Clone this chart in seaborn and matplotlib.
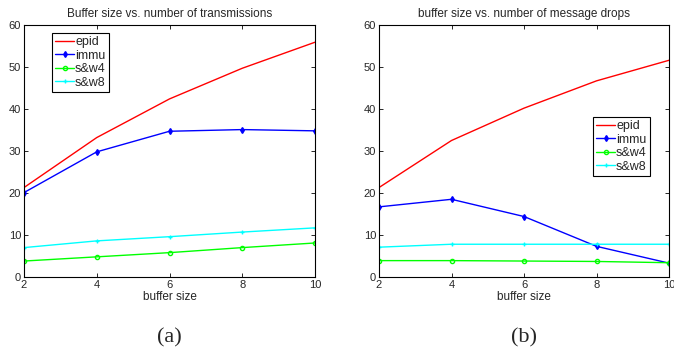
import matplotlib
matplotlib.use("Agg")
import matplotlib.pyplot as plt
import seaborn as sns
import pandas as pd

buffer_size = [2, 4, 6, 8, 10]
series_names = ["epid", "immu", "s&w4", "s&w8"]

# (a) number of transmissions
trans_epid = [21.3, 33.2, 42.4, 49.7, 55.9]
trans_immu = [20.1, 29.8, 34.7, 35.1, 34.8]
trans_sw4 = [3.8, 4.8, 5.8, 7.0, 8.1]
trans_sw8 = [7.0, 8.6, 9.6, 10.7, 11.7]

# (b) number of message drops
drops_epid = [21.3, 32.5, 40.2, 46.7, 51.6]
drops_immu = [16.7, 18.5, 14.4, 7.3, 3.3]
drops_sw4 = [3.9, 3.9, 3.8, 3.7, 3.4]
drops_sw8 = [7.1, 7.8, 7.8, 7.8, 7.8]

titles = ["Buffer size vs. number of transmissions", "buffer size vs. number of message drops"]
captions = ["(a)", "(b)"]
xlabel = "buffer size"
yticks = [0, 10, 20, 30, 40, 50, 60]

sns.set_style("white")
plt.rcParams["font.family"] = ["Liberation Sans", "DejaVu Sans"]

colors = {"epid": "#ff0000", "immu": "#0000ff", "s&w4": "#00ff00", "s&w8": "#00ffff"}
markers = {"epid": "", "immu": "d", "s&w4": "o", "s&w8": "+"}

def make_df(vals):
    rows = []
    for name, v in zip(series_names, vals):
        for x, y in zip(buffer_size, v):
            rows.append({"buffer": x, "value": y, "series": name})
    return pd.DataFrame(rows)

fig = plt.figure(figsize=(6.74, 3.52), dpi=100)
W, H = 674, 352
axes_px = [(24, 25, 315, 277), (379, 25, 669, 277)]
data = [[trans_epid, trans_immu, trans_sw4, trans_sw8],
        [drops_epid, drops_immu, drops_sw4, drops_sw8]]
legend_pos = [(52, 33), (593, 117)]

for i in range(2):
    l, t, r, b = axes_px[i]
    ax = fig.add_axes([l / W, 1 - b / H, (r - l) / W, (b - t) / H])
    df = make_df(data[i])
    for name in series_names:
        sub = df[df["series"] == name]
        mk = markers[name]
        sns.lineplot(data=sub, x="buffer", y="value", ax=ax, color=colors[name],
                     linewidth=1.0, marker=mk if mk else None, markersize=3,
                     markerfacecolor="none" if name == "s&w4" else colors[name],
                     markeredgecolor=colors[name], markeredgewidth=1.0,
                     label=name)
    ax.set_xlim(2, 10)
    ax.set_ylim(0, 60)
    ax.set_xticks(buffer_size)
    ax.set_yticks(yticks)
    ax.tick_params(direction="in", length=3, width=0.7, labelsize=8,
                   top=True, right=True, bottom=True, left=True, pad=2)
    for s in ax.spines.values():
        s.set_visible(True)
        s.set_color("black")
        s.set_linewidth(0.8)
    ax.set_title(titles[i], fontsize=8.5, pad=6)
    ax.set_xlabel(xlabel, fontsize=8.5, labelpad=1)
    ax.set_ylabel("")
    lx, ly = legend_pos[i]
    leg = ax.legend(loc="upper left", bbox_to_anchor=(lx / W, 1 - ly / H),
                    bbox_transform=fig.transFigure, fontsize=9, frameon=True,
                    fancybox=False, edgecolor="black", framealpha=1,
                    handlelength=1.5, handletextpad=0.1, borderpad=0.25,
                    labelspacing=0.12, borderaxespad=0)
    leg.get_frame().set_linewidth(0.8)
    cx = (l + r) / 2
    fig.text(cx / W, 1 - 338 / H, captions[i], ha="center", va="center",
             fontsize=16, family=["Liberation Serif", "DejaVu Serif"])

fig.savefig("out.png", dpi=100)
